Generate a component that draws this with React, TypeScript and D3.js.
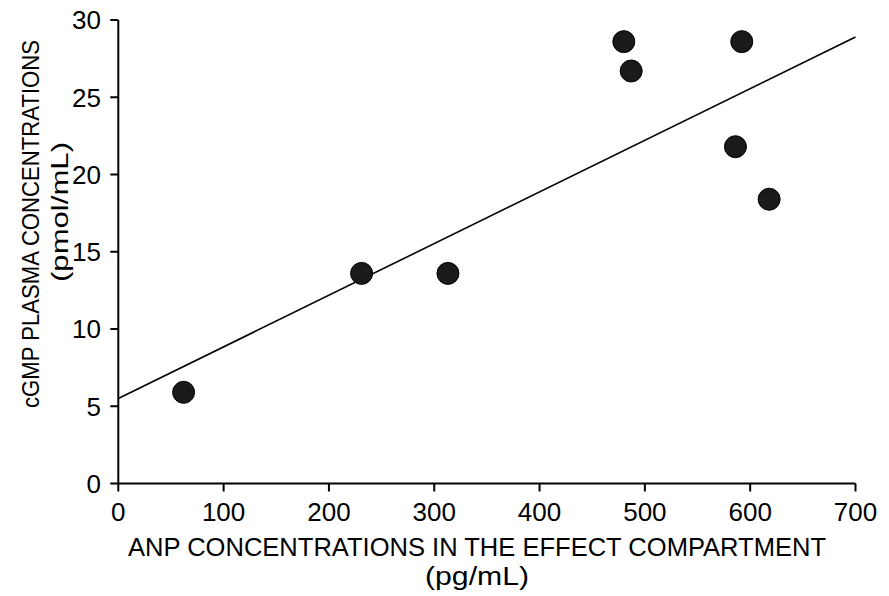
import React from "react";
import * as d3 from "d3";

const anp = [62, 231, 313, 480, 487, 592, 586, 618];
const cgmp = [5.9, 13.6, 13.6, 28.6, 26.7, 28.6, 21.8, 18.4];
const fitX = [0, 700];
const fitY = [5.5, 28.9];
const xTicks = [0, 100, 200, 300, 400, 500, 600, 700];
const yTicks = [0, 5, 10, 15, 20, 25, 30];
const xTitle = ["ANP CONCENTRATIONS IN THE EFFECT COMPARTMENT", "(pg/mL)"];
const yTitle = ["cGMP PLASMA CONCENTRATIONS", "(pmol/mL)"];

const W = 889;
const H = 596;
const FONT = "'Liberation Sans', Arial, sans-serif";

export default function App() {
  const x = d3.scaleLinear().domain([0, 700]).range([118.3, 855.5]);
  const y = d3.scaleLinear().domain([0, 30]).range([483.5, 20]);
  const line = d3
    .line<number>()
    .x((d) => x(fitX[d]))
    .y((d) => y(fitY[d]));
  const cx = 477;
  return (
    <svg
      width={W}
      height={H}
      style={{ position: "absolute", left: 0, top: 0, background: "#fff" }}
      fontFamily={FONT}
    >
      {/* axes */}
      <line x1={x(0)} x2={x(0)} y1={y(30)} y2={y(0)} stroke="#000" strokeWidth={2} />
      <line x1={x(0)} x2={x(700)} y1={y(0)} y2={y(0)} stroke="#000" strokeWidth={2} />
      {yTicks.map((t) => (
        <g key={"y" + t}>
          <line x1={x(0) - 8} x2={x(0)} y1={y(t)} y2={y(t)} stroke="#000" strokeWidth={2} />
          <text x={101} y={y(t)} dy="0.36em" textAnchor="end" fontSize={26}>
            {t}
          </text>
        </g>
      ))}
      {xTicks.map((t) => (
        <g key={"x" + t}>
          <line x1={x(t)} x2={x(t)} y1={y(0)} y2={y(0) + 8} stroke="#000" strokeWidth={2} />
          <text x={x(t)} y={521} textAnchor="middle" fontSize={26}>
            {t}
          </text>
        </g>
      ))}
      {/* fit line */}
      <path d={line([0, 1]) || ""} fill="none" stroke="#000" strokeWidth={1.6} />
      {/* points */}
      {anp.map((a, i) => (
        <circle key={i} cx={x(a)} cy={y(cgmp[i])} r={11} fill="#1a1a1a" stroke="#000" strokeWidth={1} />
      ))}
      {/* x title */}
      <text x={cx} y={556} textAnchor="middle" fontSize={25.5} textLength={698} lengthAdjust="spacingAndGlyphs">
        {xTitle[0]}
      </text>
      <text x={cx} y={585} textAnchor="middle" fontSize={25.5} textLength={104} lengthAdjust="spacingAndGlyphs">
        {xTitle[1]}
      </text>
      {/* y title */}
      <text transform={`translate(39, 224) rotate(-90)`} textAnchor="middle" fontSize={24} textLength={368} lengthAdjust="spacingAndGlyphs">
        {yTitle[0]}
      </text>
      <text transform={`translate(68, 212) rotate(-90)`} textAnchor="middle" fontSize={24} textLength={140} lengthAdjust="spacingAndGlyphs">
        {yTitle[1]}
      </text>
    </svg>
  );
}
